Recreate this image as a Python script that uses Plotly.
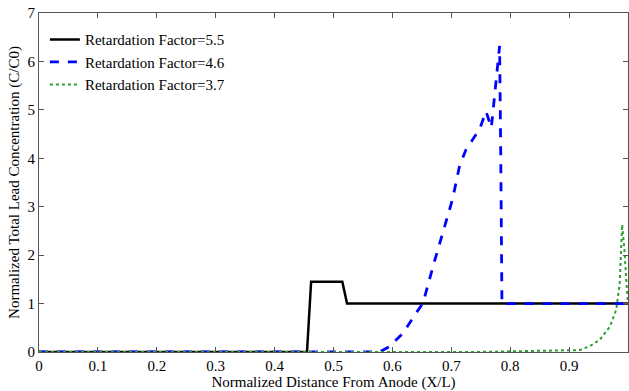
import plotly.graph_objects as go

# Retardation Factor = 5.5 (black solid)
x_rf55 = [0.0, 0.36, 0.455, 0.462, 0.515, 0.523, 1.0]
y_rf55 = [0.0, 0.0, 0.0, 1.45, 1.45, 1.0, 1.0]

# Retardation Factor = 4.6 (blue dashed)
x_rf46 = [0.0, 0.578, 0.595, 0.618, 0.640, 0.652, 0.669, 0.686, 0.702, 0.714,
          0.725, 0.748, 0.759, 0.768, 0.775, 0.779, 0.782, 0.784, 0.786, 1.0]
y_rf46 = [0.0, 0.0, 0.11, 0.39, 0.80, 1.01, 1.77, 2.46, 3.15, 3.84,
          4.18, 4.60, 4.97, 4.63, 5.50, 5.95, 6.32, 4.0, 1.0, 1.0]

# Retardation Factor = 3.7 (green dotted)
x_rf37 = [0.0, 0.74, 0.918, 0.935, 0.952, 0.969, 0.980, 0.986, 0.990, 0.994, 0.997, 1.0]
y_rf37 = [0.0, 0.0, 0.04, 0.12, 0.25, 0.52, 0.87, 1.42, 2.63, 2.10, 1.50, 1.00]

x_ticks = [0, 0.1, 0.2, 0.3, 0.4, 0.5, 0.6, 0.7, 0.8, 0.9, 1]
x_labels = ["0", "0.1", "0.2", "0.3", "0.4", "0.5", "0.6", "0.7", "0.8", "0.9", "1"]
y_ticks = [0, 1, 2, 3, 4, 5, 6, 7]

font = "Liberation Serif"

fig = go.Figure()
fig.add_trace(go.Scatter(x=x_rf55, y=y_rf55, mode="lines", name="Retardation Factor=5.5",
                         line=dict(color="black", width=2.5)))
fig.add_trace(go.Scatter(x=x_rf46, y=y_rf46, mode="lines", name="Retardation Factor=4.6",
                         line=dict(color="#0000ff", width=2.8, dash="dash")))
fig.add_trace(go.Scatter(x=x_rf37, y=y_rf37, mode="lines", name="Retardation Factor=3.7",
                         line=dict(color="#2ca02c", width=2, dash="dot")))

axis_common = dict(
    showgrid=False, zeroline=False, showline=True, linecolor="#555555", linewidth=1,
    mirror="allticks", ticks="inside", ticklen=5, tickcolor="#555555",
    tickfont=dict(family=font, size=15, color="black"),
)

fig.update_layout(
    width=629, height=391,
    margin=dict(l=39, r=1, t=13, b=39),
    plot_bgcolor="white", paper_bgcolor="white",
    font=dict(family=font, size=15, color="black"),
    xaxis=dict(range=[0, 1], tickvals=x_ticks, ticktext=x_labels,
               title=dict(text="Normalized Distance From Anode (X/L)", standoff=0,
                          font=dict(family=font, size=15)),
               **axis_common),
    yaxis=dict(range=[0, 7], tickvals=y_ticks,
               title=dict(text="Normalized Total Lead Concentration (C/C0)", standoff=4,
                          font=dict(family=font, size=15)),
               **axis_common),
    legend=dict(x=0.01, y=0.97, xanchor="left", yanchor="top", bgcolor="rgba(0,0,0,0)",
                font=dict(family=font, size=15), tracegroupgap=0, itemwidth=30),
    showlegend=True,
)

fig.write_html("out.html")
